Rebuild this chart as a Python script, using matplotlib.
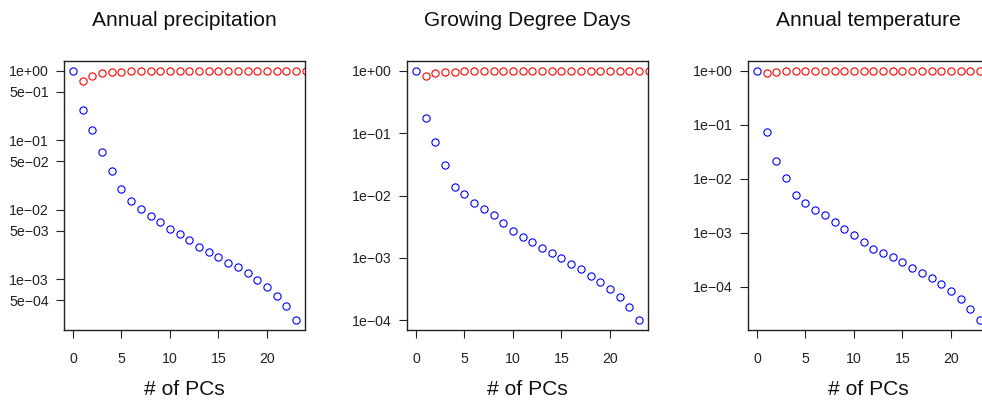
import matplotlib
matplotlib.use("Agg")
import matplotlib.pyplot as plt
import numpy as np

plt.rcParams['font.family'] = ['Liberation Sans', 'DejaVu Sans']

titles = ["Annual precipitation", "Growing Degree Days", "Annual temperature"]
xlabel = "# of PCs"

blue_x = list(range(0, 24))
red_x = list(range(1, 25))

blue_precip = [1.0, 0.270, 0.141, 0.0691, 0.0367, 0.0202, 0.0133, 0.01016, 0.00822, 0.00659,
               0.00528, 0.00447, 0.00366, 0.00294, 0.00248, 0.00208, 0.00174, 0.00148,
               0.00122, 0.00098, 0.000767, 0.000582, 0.000412, 0.000259]
red_precip = [0.725, 0.857, 0.925, 0.960, 0.978, 0.988, 0.993, 0.996, 0.998, 0.999,
              0.9993, 0.9995, 0.9997, 0.9998, 0.9998, 0.9999, 0.9999, 0.9999,
              1.0, 1.0, 1.0, 1.0, 1.0, 1.0]

blue_gdd = [1.0, 0.173, 0.0718, 0.0306, 0.01387, 0.01057, 0.00757, 0.00614, 0.00480, 0.00365,
            0.00265, 0.00217, 0.00178, 0.00144, 0.00120, 0.000997, 0.000807, 0.000655,
            0.000511, 0.000414, 0.000312, 0.000238, 0.000164, 0.0001]
red_gdd = [0.820, 0.917, 0.963, 0.980, 0.988, 0.993, 0.996, 0.998, 0.999, 0.9993,
           0.9995, 0.9997, 0.9998, 0.9998, 0.9999, 0.9999, 0.9999, 1.0,
           1.0, 1.0, 1.0, 1.0, 1.0, 1.0]

blue_temp = [1.0, 0.0746, 0.0219, 0.0106, 0.00498, 0.00358, 0.00269, 0.00211, 0.00159, 0.00118,
             0.000911, 0.000667, 0.000515, 0.000434, 0.000356, 0.000287, 0.000229, 0.000185,
             0.000147, 0.000115, 0.0000855, 0.000059, 0.0000385, 0.0000244]
red_temp = [0.918, 0.960, 0.985, 0.992, 0.995, 0.997, 0.998, 0.999, 0.9993, 0.9995,
            0.9997, 0.9998, 0.9999, 0.9999, 1.0, 1.0, 1.0, 1.0,
            1.0, 1.0, 1.0, 1.0, 1.0, 1.0]

yticks_precip = [1e0, 5e-1, 1e-1, 5e-2, 1e-2, 5e-3, 1e-3, 5e-4]
ytl_precip = ["1e+00", "5e\u221201", "1e\u221201", "5e\u221202", "1e\u221202",
              "5e\u221203", "1e\u221203", "5e\u221204"]
yticks_dec = [1e0, 1e-1, 1e-2, 1e-3, 1e-4]
ytl_dec = ["1e+00", "1e\u221201", "1e\u221202", "1e\u221203", "1e\u221204"]
xticks = [0, 5, 10, 15, 20]

blues = [blue_precip, blue_gdd, blue_temp]
reds = [red_precip, red_gdd, red_temp]
yt = [(yticks_precip, ytl_precip), (yticks_dec, ytl_dec), (yticks_dec, ytl_dec)]

W, H = 982, 401
fig = plt.figure(figsize=(W / 100, H / 100), dpi=100)
lefts = [64, 407, 748]
pw = 241
top, bottom = 61, 330

for i in range(3):
    ax = fig.add_axes([lefts[i] / W, 1 - bottom / H, pw / W, (bottom - top) / H])
    ax.set_yscale('log')
    ax.plot(blue_x, blues[i], linestyle='none', marker='o', markersize=5.2,
            markerfacecolor='none', markeredgecolor='blue', markeredgewidth=0.8)
    ax.plot(red_x, reds[i], linestyle='none', marker='o', markersize=5.2,
            markerfacecolor='none', markeredgecolor='red', markeredgewidth=0.8)
    span = blue_x[-1] - blue_x[0]
    ax.set_xlim(blue_x[0] - 0.04 * span, blue_x[-1] + 0.04 * span)
    lo = np.log10(min(blues[i])); hi = np.log10(max(max(blues[i]), max(reds[i])))
    r = hi - lo
    ax.set_ylim(10 ** (lo - 0.04 * r), 10 ** (hi + 0.04 * r))
    ax.set_xticks(xticks)
    ax.set_xticklabels([str(t) for t in xticks])
    ax.set_yticks(yt[i][0])
    ax.set_yticklabels(yt[i][1])
    ax.yaxis.set_minor_locator(matplotlib.ticker.NullLocator())
    ax.tick_params(axis='both', direction='out', length=6, width=0.8, labelsize=10.2,
                   color='#222222', labelcolor='#222222')
    ax.tick_params(axis='x', pad=9.5)
    ax.tick_params(axis='y', pad=5)
    for s in ax.spines.values():
        s.set_linewidth(1.0)
        s.set_color('#222222')
    ax.set_title(titles[i], fontsize=15.1, pad=25.5, color='#111111')
    ax.set_xlabel(xlabel, fontsize=15.1, labelpad=10.5, color='#111111')

fig.savefig("out.png", dpi=100)
